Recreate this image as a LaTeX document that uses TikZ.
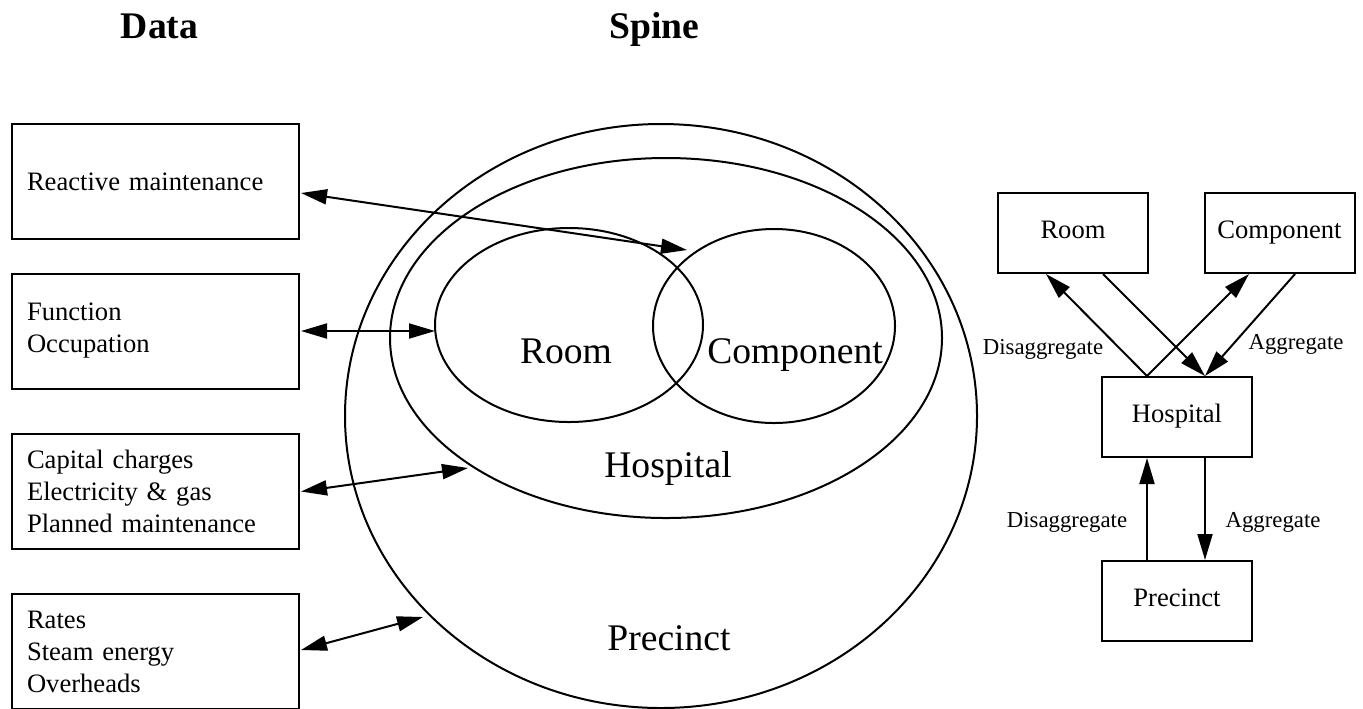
\documentclass[tikz,border=0pt]{standalone}
\usepackage{fontspec}
\setmainfont{Liberation Serif}
\usetikzlibrary{shapes.geometric,arrows.meta,calc}
\tikzset{
  ln/.style={line width=1pt},
  tip/.style={-{Triangle[length=13pt,width=7.5pt]}},
  dtip/.style={{Triangle[length=13pt,width=7.5pt]}-{Triangle[length=13pt,width=7.5pt]}},
  databox/.style={draw, ln, rectangle, minimum height=57.5pt, text width=128.5pt,
    inner xsep=7.5pt, inner ysep=0pt, align=left, font=\fontsize{13.3}{16}\selectfont},
  spinebox/.style={draw, ln, rectangle, minimum width=75pt, minimum height=40pt,
    inner sep=0pt, text height=0.68em, text depth=0.1em, font=\fontsize{13.3}{16}\selectfont},
  oval/.style={draw, ln, ellipse, inner sep=0pt},
  biglbl/.style={anchor=base, inner sep=0pt, font=\fontsize{18.8}{22}\selectfont},
  title/.style={anchor=base, inner sep=0pt, font=\fontsize{18.8}{22}\selectfont\bfseries},
  small/.style={anchor=base, inner sep=0pt, font=\fontsize{11.4}{14}\selectfont},
}
\begin{document}
\begin{tikzpicture}[x=0.5pt, y=-0.5pt]
\useasboundingbox (0,0) rectangle (1363,708);

% titles
\node[title] (tdata) at (159.5,38) {Data};
\node[title] (tspine) at (654.5,38) {Spine};

% data boxes
\node[databox] (box1) at (155.5,181.5) {Reactive maintenance};
\node[databox] (box2) at (155.5,331) {Function\\Occupation};
\node[databox] (box3) at (155.5,491.5) {Capital charges\\Electricity \& gas\\Planned maintenance};
\node[databox] (box4) at (155.5,651.5) {Rates\\Steam energy\\Overheads};

% spine ellipses
\node[oval, minimum width=316pt, minimum height=292pt] (precE) at (661,416) {};
\node[oval, minimum width=276pt, minimum height=180pt] (hospE) at (666,338) {};
\node[oval, minimum width=134pt, minimum height=97pt] (roomE) at (569,325) {};
\node[oval, minimum width=121pt, minimum height=97pt] (compE) at (774,326) {};

\node[biglbl] (lroom) at (566,363) {Room};
\node[biglbl] (lcomp) at (795,363) {Component};
\node[biglbl] (lhosp) at (668,477) {Hospital};
\node[biglbl] (lprec) at (669,650) {Precinct};

% arrow end points on the spine
\coordinate (c1) at (687,250);
\coordinate (c2) at (435,331);
\coordinate (c3) at (468,468);
\coordinate (c4) at (423,617);

\draw[ln, dtip] ($(box1.east)+(1,11.5)$) -- (c1);
\draw[ln, dtip] ($(box2.east)+(1,0)$) -- (c2);
\draw[ln, dtip] ($(box3.east)+(1,0)$) -- (c3);
\draw[ln, dtip] ($(box4.east)+(1,-1.5)$) -- (c4);

% hierarchy on the right
\node[spinebox] (rroom) at (1073,233) {Room};
\node[spinebox] (rcomp) at (1279.5,233) {Component};
\node[spinebox] (rhosp) at (1177,417) {Hospital};
\node[spinebox] (rprec) at (1177,601) {Precinct};

\draw[ln, tip] ($(rhosp.north)+(-30,0)$) -- ($(rroom.south)+(-27,0)$);
\draw[ln, tip] ($(rroom.south)+(30,0)$) -- ($(rhosp.north)+(28,0)$);
\draw[ln, tip] ($(rhosp.north)+(-30,0)$) -- ($(rcomp.south)+(-30.5,0)$);
\draw[ln, tip] ($(rcomp.south)+(15.5,0)$) -- ($(rhosp.north)+(28,0)$);
\draw[ln, tip] ($(rprec.north)+(-30,0)$) -- ($(rhosp.south)+(-30,0)$);
\draw[ln, tip] ($(rhosp.south)+(28,0)$) -- ($(rprec.north)+(28,0)$);

\node[small] (dis1) at (1043,354) {Disaggregate};
\node[small] (agg1) at (1296,349) {Aggregate};
\node[small] (dis2) at (1067,527) {Disaggregate};
\node[small] (agg2) at (1273,527) {Aggregate};
\end{tikzpicture}
\end{document}
